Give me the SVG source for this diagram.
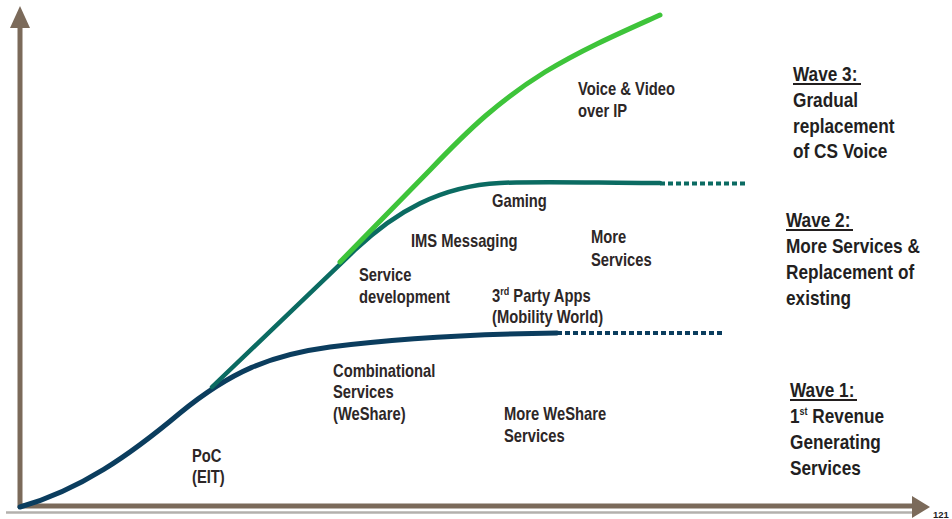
<svg xmlns="http://www.w3.org/2000/svg" width="952" height="519" viewBox="0 0 952 519">
<defs>
<style>
.lbl{font-family:"Liberation Sans",Arial,sans-serif;font-weight:bold;font-size:18px;fill:#2d2727}
.wave{font-family:"Liberation Sans",Arial,sans-serif;font-weight:bold;font-size:21px;fill:#231f1f}
.sup{font-size:11px}
.axis{stroke:#7b6a5a;stroke-width:5;fill:none}
.ul{stroke:#231f1f;stroke-width:2}
.c1{stroke:#0b3d5e;stroke-width:5;fill:none;stroke-linecap:round}
.c2{stroke:#0b6b62;stroke-width:4.5;fill:none;stroke-linecap:round}
.c3{stroke:#3ec43a;stroke-width:5;fill:none;stroke-linecap:round}
.d1{stroke:#0b3d5e;stroke-width:4;fill:none;stroke-dasharray:5 3}
.d2{stroke:#0b6b62;stroke-width:4;fill:none;stroke-dasharray:5 3}
</style>
</defs>
<rect width="952" height="519" fill="#ffffff"/>
<g id="axes">
<line x1="6" y1="512.5" x2="914" y2="512.5" stroke="#b3b0ad" stroke-width="2.5"/>
<line class="axis" x1="20" y1="28" x2="20" y2="508"/>
<polygon points="20,6 10,28 30,28" fill="#7b6a5a"/>
<line class="axis" x1="18" y1="506" x2="913" y2="506"/>
<polygon points="912,496 930,507 912,518" fill="#7b6a5a"/>
<text x="933" y="518" font-family="Liberation Sans,Arial,sans-serif" font-weight="bold" font-size="9.5" fill="#231f1f">121</text>
</g>
<g id="connectors">
<path id="wave1-curve" class="c1" d="M20,507 C80,490 130,455 180,413 C230,372 270,355 330,347 C400,338 480,334 557,333"/>
<line class="d1" x1="557" y1="333" x2="722" y2="333"/>
<path id="wave2-curve" class="c2" d="M212,387 L355,250 C395,212 440,186 500,183 C540,181 600,183 660,183"/>
<line class="d2" x1="660" y1="183.5" x2="746" y2="183.5"/>
<path id="wave3-curve" class="c3" d="M340,262 L430,170 C470,128 500,100 545,72 C585,48 620,33 660,15"/>
</g>
<g id="voip"><text class="lbl" transform="translate(578,95) scale(0.82,1)"><tspan x="0">Voice &amp; Video</tspan><tspan x="0" dy="22">over IP</tspan></text></g>
<g id="gaming"><text class="lbl" transform="translate(492,207) scale(0.82,1)">Gaming</text></g>
<g id="ims"><text class="lbl" transform="translate(411,247) scale(0.82,1)">IMS Messaging</text></g>
<g id="more-services"><text class="lbl" transform="translate(591,243) scale(0.82,1)"><tspan x="0">More</tspan><tspan x="0" dy="23">Services</tspan></text></g>
<g id="service-dev"><text class="lbl" transform="translate(359,281) scale(0.82,1)"><tspan x="0">Service</tspan><tspan x="0" dy="22">development</tspan></text></g>
<g id="third-party"><text class="lbl" transform="translate(492,302) scale(0.82,1)"><tspan x="0">3</tspan><tspan class="sup" dy="-7">rd</tspan><tspan dy="7"> Party Apps</tspan><tspan x="0" dy="21">(Mobility World)</tspan></text></g>
<g id="combinational"><text class="lbl" transform="translate(333,377) scale(0.82,1)"><tspan x="0">Combinational</tspan><tspan x="0" dy="21.5">Services</tspan><tspan x="0" dy="21.5">(WeShare)</tspan></text></g>
<g id="more-weshare"><text class="lbl" transform="translate(504,420) scale(0.82,1)"><tspan x="0">More WeShare</tspan><tspan x="0" dy="22">Services</tspan></text></g>
<g id="poc"><text class="lbl" transform="translate(192,462) scale(0.82,1)"><tspan x="0">PoC</tspan><tspan x="0" dy="21">(EIT)</tspan></text></g>
<g id="wave3">
<text class="wave" transform="translate(793,81) scale(0.82,1)"><tspan x="0">Wave 3:</tspan><tspan x="0" dy="26">Gradual</tspan><tspan x="0" dy="26">replacement</tspan><tspan x="0" dy="25.5">of CS Voice</tspan></text>
<line class="ul" x1="793" y1="84" x2="861" y2="84"/>
</g>
<g id="wave2">
<text class="wave" transform="translate(786,227) scale(0.82,1)"><tspan x="0">Wave 2:</tspan><tspan x="0" dy="26">More Services &amp;</tspan><tspan x="0" dy="26">Replacement of</tspan><tspan x="0" dy="26">existing</tspan></text>
<line class="ul" x1="786" y1="230" x2="853" y2="230"/>
</g>
<g id="wave1">
<text class="wave" transform="translate(790,397) scale(0.82,1)"><tspan x="0">Wave 1:</tspan><tspan x="0" dy="26">1</tspan><tspan class="sup" font-size="13" dy="-8">st</tspan><tspan dy="8"> Revenue</tspan><tspan x="0" dy="26">Generating</tspan><tspan x="0" dy="26">Services</tspan></text>
<line class="ul" x1="790" y1="400" x2="857" y2="400"/>
</g>
</svg>
